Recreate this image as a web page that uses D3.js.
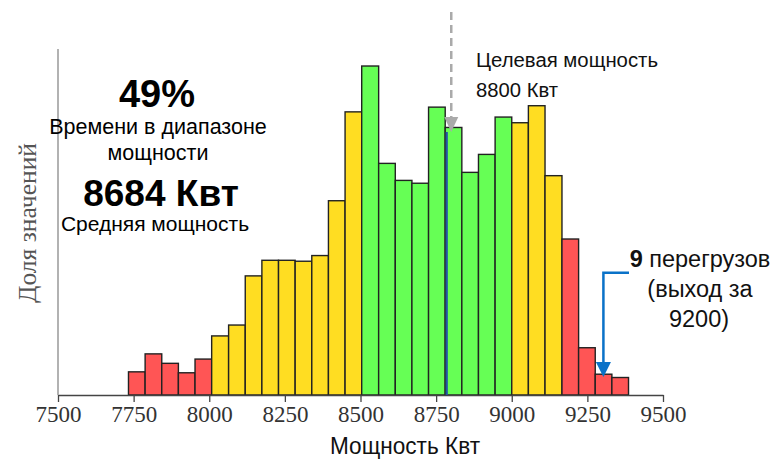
<!DOCTYPE html>
<html>
<head>
<meta charset="utf-8">
<script src="https://cdn.jsdelivr.net/npm/d3@7"></script>
<style>
  body { margin: 0; background: #fff; }
  svg { display: block; }
</style>
</head>
<body>
<div id="chart"></div>
<script>
// bin lower edges (kW), last value is the upper edge of the last bin
const binEdges = [7733, 7788, 7843, 7898, 7953, 8008, 8064, 8119, 8174, 8229,
    8284, 8339, 8394, 8449, 8504, 8560, 8615, 8670, 8725, 8780,
    8835, 8890, 8945, 9000, 9055, 9110, 9166, 9221, 9276, 9331, 9386];
// share of values per bin, %
const shares = [0.49, 0.87, 0.67, 0.47, 0.76,
    1.25, 1.48, 2.52, 2.85, 2.85, 2.83, 2.95, 4.11, 5.99,
    6.96, 4.90, 4.54, 4.48, 6.09, 5.66, 4.71, 5.09, 5.88,
    5.76, 6.12, 4.64,
    3.30, 1.00, 0.44, 0.37];
// zone of each bin: r = out of range, y = warning, g = target range
const zones = ["r", "r", "r", "r", "r",
    "y", "y", "y", "y", "y", "y", "y", "y", "y",
    "g", "g", "g", "g", "g", "g", "g", "g", "g",
    "y", "y", "y",
    "r", "r", "r", "r"];
const xTicks = [7500, 7750, 8000, 8250, 8500, 8750, 9000, 9250, 9500];
const targetPower = 8800;
const markerPower = 8785;
const overloadPoint = 9303;

const zoneColor = { r: "#ff5555", y: "#ffdd22", g: "#66ff55" };

const width = 780, height = 461;
const svg = d3.select("#chart").append("svg")
    .attr("width", width)
    .attr("height", height)
    .attr("font-family", "'Liberation Sans', Arial, sans-serif");

const x = d3.scaleLinear().domain([7500, 9500]).range([58, 663]);
const y = d3.scaleLinear().domain([0, 7.32]).range([395, 49]);

const bins = shares.map((v, i) => ({ x0: binEdges[i], x1: binEdges[i + 1], v, z: zones[i] }));

// bars
svg.append("g")
    .selectAll("rect")
    .data(bins)
    .join("rect")
    .attr("x", d => x(d.x0))
    .attr("y", d => y(d.v))
    .attr("width", d => x(d.x1) - x(d.x0))
    .attr("height", d => y(0) - y(d.v))
    .attr("fill", d => zoneColor[d.z])
    .attr("stroke", "#222")
    .attr("stroke-width", 1.4);

// x axis
const xAxis = svg.append("g")
    .attr("transform", `translate(0,${y(0)})`)
    .call(d3.axisBottom(x).tickValues(xTicks).tickSize(7).tickPadding(4).tickSizeOuter(0).tickFormat(d3.format("d")));
xAxis.select(".domain").attr("stroke", "#444").attr("stroke-width", 1.3);
xAxis.selectAll(".tick line").attr("stroke", "#444").attr("stroke-width", 1.3);
xAxis.selectAll(".tick text")
    .attr("font-family", "'Liberation Serif', 'Times New Roman', serif")
    .attr("font-size", 23)
    .attr("fill", "#333");

// y axis line (no ticks)
svg.append("line")
    .attr("x1", x(7500)).attr("x2", x(7500))
    .attr("y1", y(7.32)).attr("y2", y(0))
    .attr("stroke", "#999")
    .attr("stroke-width", 1.5);

// axis titles
svg.append("text")
    .attr("x", 405).attr("y", 454)
    .attr("text-anchor", "middle")
    .attr("font-size", 23)
    .attr("textLength", 150).attr("lengthAdjust", "spacingAndGlyphs")
    .attr("fill", "#111")
    .text("Мощность Квт");

svg.append("text")
    .attr("transform", "translate(36,223) rotate(-90)")
    .attr("text-anchor", "middle")
    .attr("font-family", "'Liberation Serif', 'Times New Roman', serif")
    .attr("font-size", 25)
    .attr("textLength", 160).attr("lengthAdjust", "spacingAndGlyphs")
    .attr("fill", "#555")
    .text("Доля значений");

// blue marker line
svg.append("line")
    .attr("x1", x(markerPower)).attr("x2", x(markerPower))
    .attr("y1", 132).attr("y2", y(0))
    .attr("stroke", "#1f55a8")
    .attr("stroke-width", 2.2);

// target arrow (dashed gray)
const tx = x(targetPower);
svg.append("line")
    .attr("x1", tx).attr("x2", tx)
    .attr("y1", 12).attr("y2", 118)
    .attr("stroke", "#aaa")
    .attr("stroke-width", 2.5)
    .attr("stroke-dasharray", "8,5");
svg.append("path")
    .attr("d", `M${tx - 7},117 L${tx + 7},117 L${tx},132 Z`)
    .attr("fill", "#aaa");

svg.append("text")
    .attr("x", 476).attr("y", 67)
    .attr("font-size", 20)
    .attr("textLength", 182).attr("lengthAdjust", "spacingAndGlyphs")
    .attr("fill", "#111")
    .text("Целевая мощность");
svg.append("text")
    .attr("x", 476).attr("y", 97)
    .attr("font-size", 20)
    .attr("textLength", 82).attr("lengthAdjust", "spacingAndGlyphs")
    .attr("fill", "#111")
    .text("8800 Квт");

// left summary
const summary = svg.append("g").attr("text-anchor", "middle").attr("fill", "#000");
summary.append("text").attr("x", 157).attr("y", 107)
    .attr("font-size", 38).attr("font-weight", "bold").text("49%");
summary.append("text").attr("x", 158).attr("y", 134)
    .attr("font-size", 21.5).text("Времени в диапазоне");
summary.append("text").attr("x", 158).attr("y", 160)
    .attr("font-size", 21.5).text("мощности");
summary.append("text").attr("x", 161).attr("y", 206)
    .attr("font-size", 37).attr("font-weight", "bold").text("8684 Квт");
summary.append("text").attr("x", 155).attr("y", 231)
    .attr("font-size", 21).text("Средняя мощность");

// overload annotation
const ox = x(overloadPoint);
svg.append("path")
    .attr("d", `M629,272.7 L${ox},272.7 L${ox},363`)
    .attr("fill", "none")
    .attr("stroke", "#0a72c8")
    .attr("stroke-width", 2.5);
svg.append("path")
    .attr("d", `M${ox - 7.5},362 L${ox + 7.5},362 L${ox},377 Z`)
    .attr("fill", "#0a72c8");

const over = svg.append("g").attr("text-anchor", "middle").attr("font-size", 23.5).attr("fill", "#111");
const t1 = over.append("text").attr("x", 700).attr("y", 267);
t1.append("tspan").attr("font-weight", "bold").text("9");
t1.append("tspan").text(" перегрузов");
over.append("text").attr("x", 700).attr("y", 297).text("(выход за");
over.append("text").attr("x", 699).attr("y", 326.5).text("9200)");
</script>
</body>
</html>
